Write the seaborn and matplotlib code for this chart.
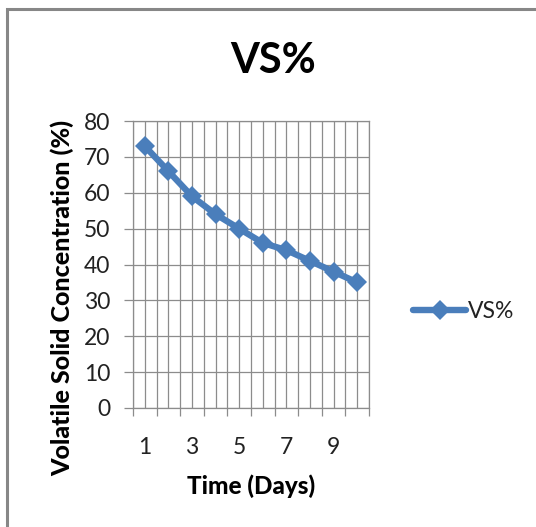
import numpy as np
import pandas as pd
import seaborn as sns
import matplotlib
matplotlib.use("Agg")
import matplotlib.pyplot as plt
from matplotlib.patches import Rectangle
from matplotlib.lines import Line2D

# ---- data ----
days = [1, 2, 3, 4, 5, 6, 7, 8, 9, 10]
vs_percent = [73, 66, 59, 54, 50, 46, 44, 41, 38, 35]
x_tick_labels = ["1", "", "3", "", "5", "", "7", "", "9", ""]
y_ticks = [0, 10, 20, 30, 40, 50, 60, 70, 80]
series_name = "VS%"
title = "VS%"
x_label = "Time (Days)"
y_label = "Volatile Solid Concentration (%)"

sns.set_theme(style="white")
plt.rcParams["font.family"] = ["Lato", "DejaVu Sans"]

W, H = 536, 527
fig = plt.figure(figsize=(W / 100, H / 100), dpi=100)
ax = fig.add_axes([133 / W, 1 - 408 / H, (369 - 133) / W, (408 - 121) / H])

df = pd.DataFrame({"Day": days, "VS": vs_percent})
blue = "#4A7EBB"
sns.lineplot(data=df, x="Day", y="VS", ax=ax, color=blue, linewidth=4.6,
             marker="D", markersize=10.5, markeredgewidth=0, legend=False)

ax.set_xlim(0.5, len(days) + 0.5)
ax.set_ylim(0, 80)
grid_c = "#8C8C8C"
# major ticks at category boundaries, minor at centers (labels)
ax.set_xticks(np.arange(0.5, len(days) + 1, 1.0))
ax.set_xticklabels([""] * (len(days) + 1))
ax.set_xticks(days, minor=True)
ax.set_xticklabels(x_tick_labels, minor=True)
ax.set_yticks(y_ticks)
ax.set_yticklabels([str(v) for v in y_ticks])

ax.grid(True, which="major", color=grid_c, linewidth=0.9)
ax.grid(True, which="minor", axis="x", color=grid_c, linewidth=0.9)
ax.set_axisbelow(True)

ax.tick_params(axis="x", which="major", direction="out", length=6, width=0.9,
               color=grid_c, bottom=True)
ax.tick_params(axis="x", which="minor", length=0, pad=21, labelsize=16.5,
               labelcolor="#222222")
ax.tick_params(axis="y", which="major", direction="out", length=6.5, width=0.9,
               color=grid_c, left=True, pad=10, labelsize=16.5, labelcolor="#222222")

for s in ax.spines.values():
    s.set_color(grid_c)
    s.set_linewidth(0.9)

ax.set_xlabel("")
ax.set_ylabel("")

fig.text(273 / W, 1 - 61 / H, title, ha="center", va="center",
         fontsize=30, fontweight="bold", color="black")
fig.text(251 / W, 1 - 486 / H, x_label, ha="center", va="center",
         fontsize=17.5, fontweight="black", color="black")
fig.text(62 / W, 1 - 298 / H, y_label, ha="center", va="center",
         rotation=90, fontsize=18, fontweight="black", color="black")

handle = Line2D([], [], color=blue, linewidth=4.6, marker="D",
                markersize=10.5, markeredgewidth=0)
fig.legend([handle], [series_name], loc="center left",
           bbox_to_anchor=(404 / W, 1 - 312 / H), frameon=False,
           fontsize=16.5, handlelength=2.3, handletextpad=0.1,
           borderaxespad=0, labelcolor="#222222")

# chart border
fig.patches.append(Rectangle((7 / W, -0.05), 1.2, 1 - 9 / H + 0.05,
                             transform=fig.transFigure, fill=False,
                             edgecolor="#878787", linewidth=2.2))

fig.savefig("out.png", dpi=100)
